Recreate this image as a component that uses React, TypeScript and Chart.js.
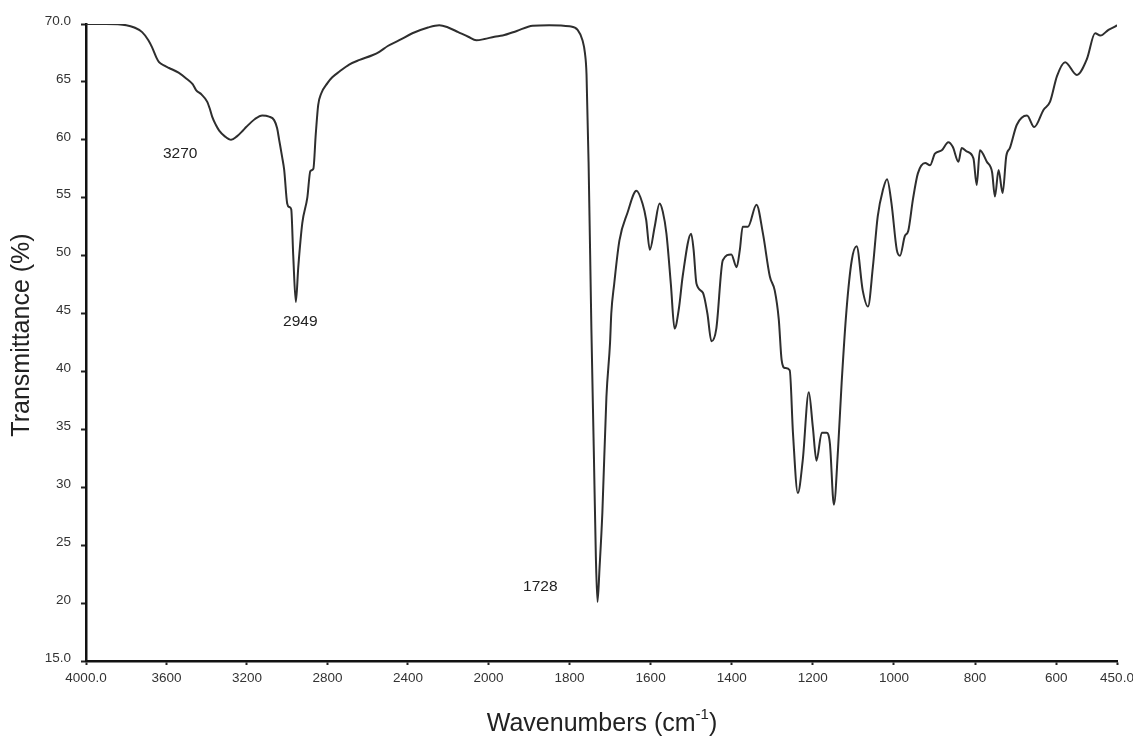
import React, { useEffect, useRef } from 'react';
import { Chart, LinearScale, registerables } from 'chart.js';

Chart.register(...registerables);

// ---- axis configuration (wavenumber axis with a scale change at 2000 cm-1) ----
const X_MAX = 4000;
const X_BREAK = 2000;
const X_MIN = 450;
const BREAK_FRACTION = 0.3903;

const X_TICKS = [4000, 3600, 3200, 2800, 2400, 2000, 1800, 1600, 1400, 1200, 1000, 800, 600, 450];
const Y_MIN = 15;
const Y_MAX = 70;
const Y_STEP = 5;

// ---- spectrum data ----
const WAVENUMBERS = [
  4000, 3900, 3800, 3760, 3721, 3690, 3672, 3650, 3637, 3610, 3587, 3540, 3502, 3470, 3453, 3425, 3398, 3385,
  3373, 3355, 3338, 3310, 3279, 3250, 3220, 3204, 3160, 3124, 3090, 3065, 3050, 3040, 3025, 3015, 3000, 2990,
  2980, 2970, 2957, 2945, 2925, 2900, 2885, 2870, 2858, 2846, 2831, 2800, 2776, 2740, 2692, 2640, 2577, 2542,
  2500, 2443, 2378, 2300, 2244, 2200, 2150, 2100, 2060, 2020, 1985, 1965, 1930, 1891, 1850, 1800, 1780, 1768,
  1762, 1758, 1753, 1746, 1740, 1735, 1731, 1726, 1719, 1709, 1700, 1697, 1690, 1677, 1657, 1635, 1620, 1611,
  1602, 1590, 1578, 1570, 1561, 1550, 1541, 1530, 1521, 1500, 1494, 1487, 1471, 1460, 1450, 1438, 1422, 1401,
  1388, 1380, 1373, 1360, 1339, 1323, 1306, 1294, 1284, 1277, 1269, 1257, 1249, 1237, 1225, 1210, 1200, 1191,
  1178, 1166, 1158, 1148, 1138, 1129, 1117, 1104, 1092, 1077, 1064, 1052, 1040, 1027, 1017, 1006, 993, 985,
  973, 965, 953, 941, 923, 911, 899, 882, 866, 855, 841, 833, 821, 804, 796, 788, 771, 758, 751, 742, 732, 723,
  714, 697, 672, 654, 631, 615, 598, 578, 549, 524, 504, 491, 471, 454, 450,
];
const TRANSMITTANCE = [
  70.0, 70.0, 69.9, 69.7, 69.3, 68.6, 68.0, 67.1, 66.7, 66.4, 66.2, 65.8, 65.3, 64.8, 64.3, 63.9, 63.3, 62.7,
  62.0, 61.3, 60.8, 60.3, 60.0, 60.3, 60.8, 61.1, 61.8, 62.1, 62.0, 61.7, 61.0, 60.0, 58.5, 57.4, 54.5, 54.2,
  54.0, 50.0, 46.0, 49.0, 52.8, 55.0, 57.3, 57.5, 60.5, 63.0, 64.0, 64.9, 65.4, 65.9, 66.5, 66.9, 67.3, 67.6,
  68.1, 68.6, 69.2, 69.7, 69.9, 69.7, 69.3, 68.9, 68.6, 68.7, 68.9, 69.0, 69.4, 69.85, 69.9, 69.8, 69.5, 68.6,
  67.5, 65.6, 58.1, 43.6, 33.0, 24.0, 20.1, 23.0, 27.8, 37.8, 42.5, 45.0, 47.5, 51.3, 53.7, 55.6, 54.5, 53.1,
  50.5, 52.5, 54.5, 53.8, 51.9, 47.5, 43.7, 45.5, 48.2, 51.9, 50.5, 47.6, 46.8, 45.0, 42.6, 43.7, 49.6, 50.1,
  49.0, 50.5, 52.5, 52.5, 54.4, 51.9, 48.2, 47.0, 44.5, 41.0, 40.3, 40.1, 34.7, 29.5, 32.3, 38.2, 35.2, 32.3,
  34.7, 34.7, 33.8, 28.5, 33.2, 39.0, 45.3, 49.6, 50.8, 47.0, 45.6, 49.0, 53.4, 55.7, 56.6, 54.5, 50.5, 50.0,
  51.7, 52.1, 54.9, 57.1, 58.0, 57.8, 58.8, 59.1, 59.8, 59.4, 58.1, 59.3, 59.0, 58.4, 56.1, 59.1, 58.1, 57.2,
  55.1, 57.4, 55.4, 58.6, 59.3, 61.3, 62.1, 61.1, 62.6, 63.3, 65.5, 66.7, 65.6, 67.0, 69.2, 69.0, 69.5, 69.8,
  69.9,
];

// ---- peak annotations ----
const PEAK_LABELS = ['3270', '2949', '1728'];
const PEAK_LABEL_X = [3532, 2935, 1872];
const PEAK_LABEL_Y = [58.8, 44.3, 21.4];

const Y_TITLE = 'Transmittance (%)';
const X_TITLE_MAIN = 'Wavenumbers (cm';
const X_TITLE_SUP = '-1';
const X_TITLE_END = ')';

function toFraction(w: number): number {
  if (w >= X_BREAK) return ((X_MAX - w) / (X_MAX - X_BREAK)) * BREAK_FRACTION;
  return BREAK_FRACTION + ((X_BREAK - w) / (X_BREAK - X_MIN)) * (1 - BREAK_FRACTION);
}
function fromFraction(f: number): number {
  if (f <= BREAK_FRACTION) return X_MAX - (f / BREAK_FRACTION) * (X_MAX - X_BREAK);
  return X_BREAK - ((f - BREAK_FRACTION) / (1 - BREAK_FRACTION)) * (X_BREAK - X_MIN);
}

class BrokenLinearScale extends LinearScale {
  static id = 'brokenLinear';
  getPixelForValue(value: number) {
    return this.getPixelForDecimal(toFraction(value));
  }
  getValueForPixel(pixel: number) {
    return fromFraction(this.getDecimalForPixel(pixel));
  }
}
Chart.register(BrokenLinearScale as any);

const FONT = "'Liberation Sans', Arial, Helvetica, sans-serif";

const decorPlugin = {
  id: 'irDecor',
  afterDatasetsDraw(chart: any) {
    const { ctx, scales } = chart;
    ctx.save();
    ctx.fillStyle = '#222';
    ctx.font = `15.5px ${FONT}`;
    ctx.textAlign = 'center';
    ctx.textBaseline = 'middle';
    PEAK_LABELS.forEach((t, i) => {
      ctx.fillText(t, scales.x.getPixelForValue(PEAK_LABEL_X[i]), scales.y.getPixelForValue(PEAK_LABEL_Y[i]));
    });
    ctx.restore();
  },
  afterDraw(chart: any) {
    const { ctx } = chart;
    ctx.save();
    ctx.fillStyle = '#222';
    // y title
    ctx.font = `25px ${FONT}`;
    ctx.textAlign = 'center';
    ctx.textBaseline = 'middle';
    ctx.translate(22, 335);
    ctx.rotate(-Math.PI / 2);
    ctx.fillText(Y_TITLE, 0, 0);
    ctx.restore();

    // x title with superscript
    ctx.save();
    ctx.fillStyle = '#222';
    ctx.textBaseline = 'alphabetic';
    ctx.textAlign = 'left';
    const mainFont = `25px ${FONT}`;
    const supFont = `15px ${FONT}`;
    ctx.font = mainFont;
    const w1 = ctx.measureText(X_TITLE_MAIN).width;
    const w3 = ctx.measureText(X_TITLE_END).width;
    ctx.font = supFont;
    const w2 = ctx.measureText(X_TITLE_SUP).width;
    const total = w1 + w2 + w3;
    const cx = 602;
    const base = 731;
    let x = cx - total / 2;
    ctx.font = mainFont;
    ctx.fillText(X_TITLE_MAIN, x, base);
    x += w1;
    ctx.font = supFont;
    ctx.fillText(X_TITLE_SUP, x, base - 12);
    x += w2;
    ctx.font = mainFont;
    ctx.fillText(X_TITLE_END, x, base);
    ctx.restore();
  },
};

export default function App() {
  const canvasRef = useRef<HTMLCanvasElement | null>(null);

  useEffect(() => {
    if (!canvasRef.current) return;
    const data = WAVENUMBERS.map((w, i) => ({ x: w, y: TRANSMITTANCE[i] }));
    const chart = new Chart(canvasRef.current, {
      type: 'line',
      data: {
        datasets: [
          {
            data,
            borderColor: '#2e2e2e',
            borderWidth: 2,
            pointRadius: 0,
            cubicInterpolationMode: 'monotone',
            fill: false,
          },
        ],
      },
      options: {
        responsive: false,
        animation: false,
        devicePixelRatio: 1,
        layout: { padding: { top: 24, right: 16, left: 0, bottom: 0 } },
        plugins: {
          legend: { display: false },
          tooltip: { enabled: false },
          title: { display: false },
        },
        scales: {
          x: {
            type: 'brokenLinear' as any,
            min: X_MIN,
            max: X_MAX,
            afterBuildTicks: (axis: any) => {
              axis.ticks = X_TICKS.map((v) => ({ value: v }));
            },
            afterFit: (axis: any) => {
              axis.height = 79;
              axis.paddingLeft = 0;
              axis.paddingRight = 0;
            },
            grid: {
              display: true,
              drawOnChartArea: false,
              drawTicks: true,
              tickLength: 4,
              tickWidth: 2,
              tickColor: '#222',
            },
            border: { display: true, color: '#111', width: 2.5 },
            ticks: {
              autoSkip: false,
              maxRotation: 0,
              padding: 5,
              color: '#333',
              font: { family: FONT, size: 13.5 },
              callback: (v: any) => (v === X_MAX || v === X_MIN ? Number(v).toFixed(1) : String(v)),
            },
          },
          y: {
            type: 'linear',
            min: Y_MIN,
            max: Y_MAX,
            afterFit: (axis: any) => {
              axis.width = 86;
              axis.paddingTop = 0;
              axis.paddingBottom = 0;
            },
            grid: {
              display: true,
              drawOnChartArea: false,
              drawTicks: true,
              tickLength: 5,
              tickWidth: 2,
              tickColor: '#222',
            },
            border: { display: true, color: '#111', width: 2.5 },
            ticks: {
              stepSize: Y_STEP,
              padding: 10,
              labelOffset: -3,
              color: '#333',
              font: { family: FONT, size: 13.5 },
              callback: (v: any) => (v === Y_MIN || v === Y_MAX ? Number(v).toFixed(1) : String(v)),
            },
          },
        },
      },
      plugins: [decorPlugin],
    });
    return () => chart.destroy();
  }, []);

  return (
    <div style={{ position: 'fixed', left: 0, top: 0, width: 1133, height: 740, background: '#fff' }}>
      <canvas ref={canvasRef} width={1133} height={740} style={{ display: 'block' }} />
    </div>
  );
}
